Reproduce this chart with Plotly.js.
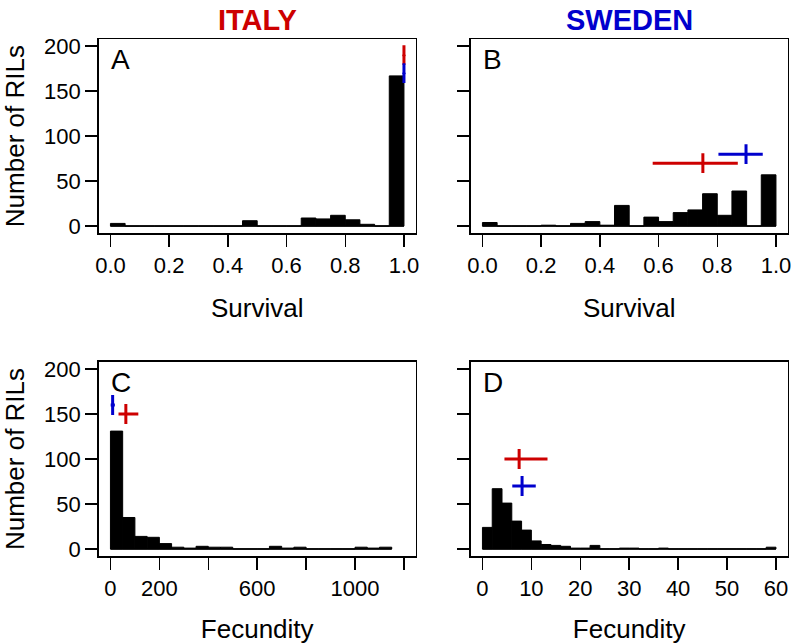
<!DOCTYPE html>
<html><head><meta charset="utf-8">
<script src="https://cdn.plot.ly/plotly-3.0.1.min.js"></script>
<style>html,body{margin:0;padding:0;background:#fff}#chart{width:793px;height:644px}</style>
</head><body><div id="chart"></div>
<script>
// ---------- data ----------
const survivalBinStart = 0;
const survivalBinWidth = 0.05;
const italySurvivalCounts  = [3,0,0,0,0,0,0,0,0,6,0,0,0,9,8,12,7,2,0,167];
const swedenSurvivalCounts = [4,0,0,0,1,0,3,5,1,23,0,10,5,15,18,36,12,39,0,57];

const italyFecBinStart = 0;
const italyFecBinWidth = 50;
const italyFecundityCounts = [131,35,14,13,6,2,1,3,2,2,0,0,0,3,1,2,0,0,0,0,2,1,2];

const swedenFecBinStart = 0;
const swedenFecBinWidth = 2;
const swedenFecundityCounts = [24,67,51,31,21,9,5,4,3,1,1,4,0,0,1,1,0,0,1,0,0,0,0,0,0,0,0,0,0,2];

// parental means with intervals, panels A, B, C, D
const italyParentMean = [1.0, 0.751, 63, 7.5];
const italyParentLow  = [1.0, 0.58, 33, 4.5];
const italyParentHigh = [1.0, 0.87, 114, 13.3];
const italyParentY    = [190, 70, 150, 100];
const swedenParentMean = [1.0, 0.898, 9, 8.1];
const swedenParentLow  = [1.0, 0.804, 1, 6.1];
const swedenParentHigh = [1.0, 0.955, 18, 10.9];
const swedenParentY    = [170, 80, 160, 70];

const survivalTicks = [0, 0.2, 0.4, 0.6, 0.8, 1.0];
const survivalTickText = ['0.0','0.2','0.4','0.6','0.8','1.0'];
const italyFecTicks = [0, 200, 400, 600, 800, 1000, 1200];
const italyFecTickText = ['0','200','','600','','1000',''];
const swedenFecTicks = [0, 10, 20, 30, 40, 50, 60];
const swedenFecTickText = ['0','10','20','30','40','50','60'];
const countTicks = [0, 50, 100, 150, 200];
const countTickText = ['0','50','100','150','200'];

const panelLetters = ['A','B','C','D'];
const siteTitles = ['ITALY','SWEDEN'];

// ---------- styling ----------
const FONT = 'Liberation Sans, Arial, Helvetica, sans-serif';
const RED = '#CD0000';
const BLUE = '#0000CD';
const axisIds = [['x','y'],['x2','y2'],['x3','y3'],['x4','y4']];

function histTraces(start, width, counts, ax) {
  const x = counts.map((c, i) => start + i * width + width / 2);
  return [
    {type:'scatter', mode:'lines', x:[start, start + counts.length * width], y:[0,0],
     line:{color:'black', width:1.5}, hoverinfo:'skip', xaxis:ax[0], yaxis:ax[1]},
    {type:'bar', x:x, y:counts, width:width, name:'RILs',
     marker:{color:'black', line:{color:'black', width:1}}, xaxis:ax[0], yaxis:ax[1]}
  ];
}

function crossTrace(i, mean, low, high, yv, color, name) {
  const ax = axisIds[i];
  return {type:'scatter', mode:'markers', name:name,
    x:[mean[i]], y:[yv[i]], marker:{size:3, color:color},
    error_x:{type:'data', symmetric:false, array:[high[i]-mean[i]], arrayminus:[mean[i]-low[i]],
             width:0, thickness:3, color:color},
    error_y:{type:'constant', value:11, width:0, thickness:3, color:color},
    xaxis:ax[0], yaxis:ax[1]};
}

const traces = [
  ...histTraces(survivalBinStart, survivalBinWidth, italySurvivalCounts, axisIds[0]),
  ...histTraces(survivalBinStart, survivalBinWidth, swedenSurvivalCounts, axisIds[1]),
  ...histTraces(italyFecBinStart, italyFecBinWidth, italyFecundityCounts, axisIds[2]),
  ...histTraces(swedenFecBinStart, swedenFecBinWidth, swedenFecundityCounts, axisIds[3])
];
for (let i = 0; i < 4; i++) {
  traces.push(crossTrace(i, italyParentMean, italyParentLow, italyParentHigh, italyParentY, RED, 'Italy parent'));
  traces.push(crossTrace(i, swedenParentMean, swedenParentLow, swedenParentHigh, swedenParentY, BLUE, 'Sweden parent'));
}

const W = 793, H = 644;
const xDomL = [98.7/W, 415.7/W], xDomR = [470.7/W, 787.7/W];
const yDomT = [(H-233.3)/H, (H-39)/H], yDomB = [(H-556.2)/H, (H-361.8)/H];

function xAxis(domain, anchor, range, tv, tt, title) {
  return {domain:domain, anchor:anchor, range:range, tickvals:tv, ticktext:tt,
    showline:true, mirror:true, linecolor:'black', linewidth:1.5,
    ticks:'outside', ticklen:12, tickwidth:1.5, tickcolor:'black',
    showgrid:false, zeroline:false, fixedrange:true,
    tickfont:{family:FONT, size:22, color:'black'},
    title:{text:title, font:{family:FONT, size:26, color:'black'}, standoff:21}};
}
function yAxis(domain, anchor, showLabels) {
  return {domain:domain, anchor:anchor, range:[-8, 208], tickvals:countTicks, ticktext:countTickText,
    showticklabels:showLabels,
    showline:true, mirror:true, linecolor:'black', linewidth:1.5,
    ticks:'outside', ticklen:12, tickwidth:1.5, tickcolor:'black',
    showgrid:false, zeroline:false, fixedrange:true,
    tickfont:{family:FONT, size:22, color:'black'},
    title:{text: showLabels ? 'Number of RILs' : '', font:{family:FONT, size:26, color:'black'}, standoff:15}};
}

const annotations = [];
const letterAxes = [['x domain','y domain'],['x2 domain','y2 domain'],['x3 domain','y3 domain'],['x4 domain','y4 domain']];
panelLetters.forEach((t, i) => {
  annotations.push({text:t, xref:letterAxes[i][0], yref:letterAxes[i][1], x:0.032, y:0.985,
    xanchor:'left', yanchor:'top', showarrow:false, font:{family:FONT, size:28, color:'black'}});
});
annotations.push({text:'<b>'+siteTitles[0]+'</b>', xref:'paper', yref:'paper', x:(xDomL[0]+xDomL[1])/2, y:(H-20)/H,
  xanchor:'center', yanchor:'middle', showarrow:false,
  font:{family:'Liberation Sans Narrow, Arial Narrow, Liberation Sans, sans-serif', size:29, color:RED}});
annotations.push({text:'<b>'+siteTitles[1]+'</b>', xref:'paper', yref:'paper', x:(xDomR[0]+xDomR[1])/2, y:(H-20)/H,
  xanchor:'center', yanchor:'middle', showarrow:false,
  font:{family:'Liberation Sans Narrow, Arial Narrow, Liberation Sans, sans-serif', size:29, color:BLUE}});

const layout = {
  width:W, height:H, margin:{l:0, r:0, t:0, b:0}, showlegend:false,
  paper_bgcolor:'white', plot_bgcolor:'white',
  font:{family:FONT, size:22, color:'black'},
  xaxis:  xAxis(xDomL, 'y',  [-0.04, 1.04], survivalTicks, survivalTickText, 'Survival'),
  xaxis2: xAxis(xDomR, 'y2', [-0.04, 1.04], survivalTicks, survivalTickText, 'Survival'),
  xaxis3: xAxis(xDomL, 'y3', [-48, 1248], italyFecTicks, italyFecTickText, 'Fecundity'),
  xaxis4: xAxis(xDomR, 'y4', [-2.4, 62.4], swedenFecTicks, swedenFecTickText, 'Fecundity'),
  yaxis:  yAxis(yDomT, 'x', true),
  yaxis2: yAxis(yDomT, 'x2', false),
  yaxis3: yAxis(yDomB, 'x3', true),
  yaxis4: yAxis(yDomB, 'x4', false),
  annotations: annotations
};

Plotly.newPlot('chart', traces, layout, {displayModeBar:false, staticPlot:true});
</script>
</body></html>
